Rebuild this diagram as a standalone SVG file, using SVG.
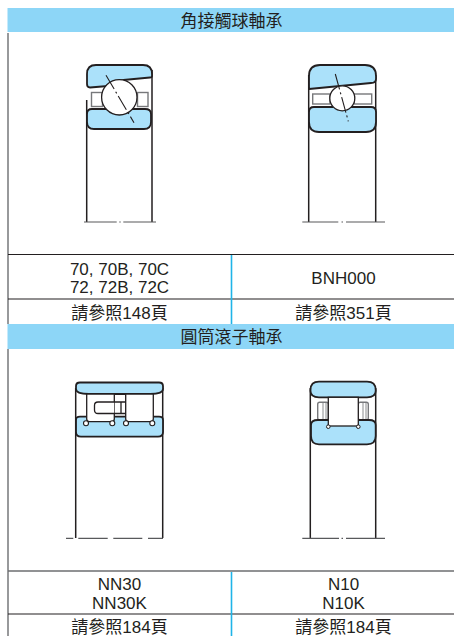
<svg xmlns="http://www.w3.org/2000/svg" width="454" height="636" viewBox="0 0 454 636">
<style>
.hdr{fill:#8dd6f7}
.t{font-family:"Liberation Sans","Noto Sans CJK TC",sans-serif;font-size:17px;fill:#231f20;text-anchor:middle}
.h{font-family:"Noto Sans CJK TC",sans-serif;font-size:17px;fill:#231f20;text-anchor:middle}
.rule{stroke:#231f20;stroke-width:1.2;fill:none}
.vb{stroke:#1fb4e8;stroke-width:1.6;fill:none}
.ring{fill:#abe1fa;stroke:#231f20;stroke-width:1.8;stroke-linejoin:round}
.o{fill:none;stroke:#231f20;stroke-width:1.5}
.c{fill:#fff;stroke:#231f20;stroke-width:1.3}
.g{fill:#fff;stroke:#77787b;stroke-width:1.4}
.cl{fill:none;stroke:#58595b;stroke-width:1.2}
.axis{fill:none;stroke:#231f20;stroke-width:1.1;stroke-dasharray:16 3 2 3}
</style>
<rect width="454" height="636" fill="#fff"/>
<g id="frame">
<rect class="hdr" x="7.5" y="8" width="446.5" height="24"/>
<rect class="hdr" x="7.5" y="324" width="446.5" height="25"/>
<path d="M8 33V324M8 349V636" stroke="#77787b" stroke-width="1.5" fill="none"/>
<path class="rule" d="M8 254.500H454M8 299H454M8 614H454"/>
<path d="M8 571H454" stroke="#6d6e71" stroke-width="1.500" fill="none"/>
<path class="vb" d="M231.500 255V324M231.500 572V636"/>
</g>
<g id="bearing-1">
<path class="o" d="M86.700 100V222M152 70V222"/>
<rect class="g" x="91.500" y="92.500" width="11" height="14"/>
<rect class="g" x="137.500" y="92.500" width="10.500" height="14"/>
<path class="ring" d="M87 74Q87 65 96 65H143Q152 65 152 74V76Q152 77.500 150 77.500L118 80.500L108 86L90 87.500Q87 87.500 87 84Z"/>
<path class="ring" d="M87 114Q87 109 92 109H145Q151 109 151 114V122Q151 129 144 129H94Q87 129 87 122Z"/>
<circle class="c" cx="119.300" cy="97.300" r="17.700"/>
<path class="axis" d="M106 75.300L134 122.700"/>
<path class="cl" d="M84 222H116.700M119.300 222H120.700M123.300 222H156"/>
</g>
<g id="bearing-2">
<path class="o" d="M308.700 75V222M375.700 75V222"/>
<rect class="g" x="312.700" y="94" width="17.300" height="10"/>
<rect class="g" x="354.300" y="94" width="17.400" height="10"/>
<path class="ring" d="M309 76Q309 65 320 65H365Q376 65 376 76V79Q376 83 371 83L309 89Z"/>
<path class="ring" d="M309 112Q309 107 314 107H371Q376 107 376 112V122Q376 132 366 132H319Q309 132 309 122Z"/>
<circle class="c" cx="342.300" cy="98.300" r="12.500"/>
<path class="axis" d="M335.300 74L348.300 121.300"/>
<path class="cl" d="M302.300 222H338.300M341.500 222H343M346 222H385"/>
</g>
<g id="bearing-3">
<path class="o" d="M75.700 388V538M162.700 388V538"/>
<path class="g" d="M114 394H126V421H114Z"/>
<path class="ring" d="M76 386Q76 382.500 80 382.500H159Q163 382.500 163 386V389Q163 394 150 394H89Q76 394 76 389Z"/>
<path class="ring" d="M76 420Q76 416.700 80 416.700H159Q163 416.700 163 420V432Q163 436.700 158 436.700H81Q76 436.700 76 432Z"/>
<path class="c" d="M86.700 394H114.300V419Q114.300 421.700 111.500 421.700H89.500Q86.700 421.700 86.700 419Z"/>
<path class="c" d="M125.700 394H153.300V419Q153.300 421.700 150.500 421.700H128.500Q125.700 421.700 125.700 419Z"/>
<path class="c" d="M114.300 402H98Q94.500 402 94.500 405.500V410Q94.500 413.500 98 413.500H114.300M121 402V413.500M114.300 402H125.700M114.300 413.500H125.700"/>
<g fill="#fff" stroke="#231f20" stroke-width="1.100"><circle cx="86" cy="423.300" r="2.500"/><circle cx="112.300" cy="423.300" r="2.500"/><circle cx="126" cy="423.300" r="2.500"/><circle cx="152.300" cy="423.300" r="2.500"/></g>
<path class="cl" d="M66 538.300H73.300M78.300 538.300H107.700M113.300 538.300H142.300M148 538.300H163"/>
</g>
<g id="bearing-4">
<path class="o" d="M310.300 388V538.300M375.700 388V538.300"/>
<rect class="g" x="317.700" y="402.300" width="10.600" height="17.700" rx="2"/>
<rect class="g" x="358.300" y="402.300" width="10" height="17.700" rx="2"/>
<path d="M323 403V419M326 403V419M363 403V419M366 403V419" stroke="#6d6e71" stroke-width=".8"/>
<path class="ring" d="M310.500 390Q310.500 381.700 319 381.700H367Q375.700 381.700 375.700 390V391Q375.700 397.300 367 397.300H319Q310.500 397.300 310.500 391Z"/>
<path class="ring" d="M311 425Q311 420 318 420H369Q375.700 420 375.700 425V436Q375.700 444.300 367 444.300H319Q311 444.300 311 436Z"/>
<rect class="c" x="328.300" y="397.300" width="30" height="28.700"/>
<g fill="#fff" stroke="#231f20" stroke-width="1"><circle cx="328.300" cy="426.700" r="1.800"/><circle cx="358.300" cy="426.700" r="1.800"/></g>
<path class="cl" d="M302.300 538.300H339M341.500 538.300H343M346 538.300H385"/>
</g>
<g id="labels">
<text class="h" x="231.500" y="26.500">角接觸球軸承</text>
<text class="h" x="231.500" y="343">圓筒滾子軸承</text>
<text class="t" x="119.500" y="274.500">70, 70B, 70C</text>
<text class="t" x="119.500" y="293">72, 72B, 72C</text>
<text class="t" x="343.500" y="284">BNH000</text>
<text class="t" x="119.500" y="319">請參照148頁</text>
<text class="t" x="343.500" y="319">請參照351頁</text>
<text class="t" x="119.500" y="590">NN30</text>
<text class="t" x="119.500" y="609">NN30K</text>
<text class="t" x="343.500" y="590">N10</text>
<text class="t" x="343.500" y="609">N10K</text>
<text class="t" x="119.500" y="633">請參照184頁</text>
<text class="t" x="343.500" y="633">請參照184頁</text>
</g>
</svg>
